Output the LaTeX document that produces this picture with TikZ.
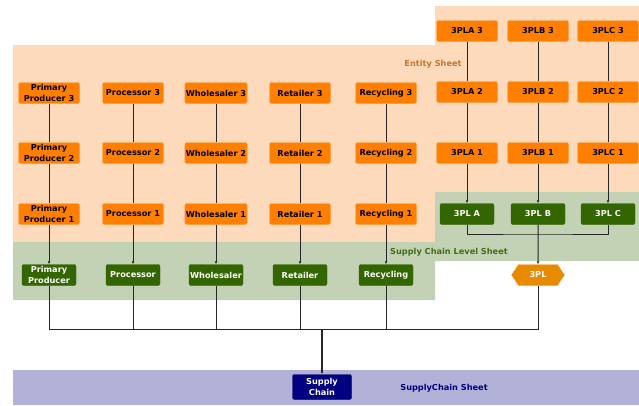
\documentclass[tikz,border=0pt]{standalone}
\usepackage{fontspec}
\setmainfont{DejaVu Sans}
\usetikzlibrary{arrows.meta,shapes.symbols}
\definecolor{entsheet}{RGB}{252,218,187}
\definecolor{lvlsheet}{RGB}{195,209,181}
\definecolor{scsheet}{RGB}{178,178,216}
\definecolor{entorange}{RGB}{255,128,0}
\definecolor{entedge}{RGB}{255,160,70}
\definecolor{lvlgreen}{RGB}{51,102,0}
\definecolor{tplorange}{RGB}{230,138,0}
\definecolor{scnavy}{RGB}{0,0,128}
\definecolor{entlabel}{RGB}{196,118,50}
\definecolor{lvllabel}{RGB}{62,110,22}

\begin{document}
\begin{tikzpicture}[x=1pt,y=-1pt,
  every node/.style={font=\fontsize{8.2}{10.2}\selectfont\bfseries},
  entbox/.style={fill=entorange,draw=entedge,rounded corners=2pt,
    minimum width=61pt,minimum height=21pt,inner sep=1pt,align=center},
  lvlbox/.style={entbox,fill=lvlgreen,draw=lvlgreen,text=white,minimum width=54pt},
  tplhex/.style={shape=signal,signal to=east and west,signal pointer angle=112,
    fill=tplorange,draw=entedge,text=white,minimum width=53pt,minimum height=21pt,inner sep=1pt},
  scbox/.style={entbox,fill=scnavy,draw=scnavy!70!black,text=white,
    minimum width=59pt,minimum height=25pt},
  link/.style={draw=black!85,line width=0.6pt},
  feed/.style={link,-{Latex[length=3pt,width=2.6pt]}},
]
  \useasboundingbox (0,0) rectangle (639,405);

  % sheets
  \fill[entsheet] (13,45) -- (435,45) -- (435,6) -- (639,6) -- (639,192)
    -- (435,192) -- (435,242) -- (13,242) -- cycle;
  \fill[lvlsheet] (13,242) -- (435,242) -- (435,192) -- (639,192) -- (639,261)
    -- (435,261) -- (435,300) -- (13,300) -- cycle;
  \fill[scsheet] (13,370) rectangle (639,405);

  \node[text=entlabel] (entlbl) at (433,64) {Entity Sheet};
  \node[text=lvllabel] (lvllbl) at (449,252) {Supply Chain Level Sheet};
  \node[text=scnavy] (sclbl) at (444,388) {SupplyChain Sheet};

  % entity sheet
  \node[entbox] (pp3)  at ( 49, 93) {Primary\\Producer 3};
  \node[entbox] (pp2)  at ( 49,153) {Primary\\Producer 2};
  \node[entbox] (pp1)  at ( 49,214) {Primary\\Producer 1};
  \node[entbox] (pro3) at (133, 93) {Processor 3};
  \node[entbox] (pro2) at (133,153) {Processor 2};
  \node[entbox] (pro1) at (133,214) {Processor 1};
  \node[entbox] (who3) at (216, 93) {Wholesaler 3};
  \node[entbox] (who2) at (216,153) {Wholesaler 2};
  \node[entbox] (who1) at (216,214) {Wholesaler 1};
  \node[entbox] (ret3) at (300, 93) {Retailer 3};
  \node[entbox] (ret2) at (300,153) {Retailer 2};
  \node[entbox] (ret1) at (300,214) {Retailer 1};
  \node[entbox] (rec3) at (386, 93) {Recycling 3};
  \node[entbox] (rec2) at (386,153) {Recycling 2};
  \node[entbox] (rec1) at (386,214) {Recycling 1};
  \node[entbox] (pla3) at (467, 31) {3PLA 3};
  \node[entbox] (pla2) at (467, 92) {3PLA 2};
  \node[entbox] (pla1) at (467,153) {3PLA 1};
  \node[entbox] (plb3) at (538, 31) {3PLB 3};
  \node[entbox] (plb2) at (538, 92) {3PLB 2};
  \node[entbox] (plb1) at (538,153) {3PLB 1};
  \node[entbox] (plc3) at (608, 31) {3PLC 3};
  \node[entbox] (plc2) at (608, 92) {3PLC 2};
  \node[entbox] (plc1) at (608,153) {3PLC 1};

  % supply chain level sheet
  \node[lvlbox] (ppL)  at ( 49,275) {Primary\\Producer};
  \node[lvlbox] (proL) at (133,275) {Processor};
  \node[lvlbox] (whoL) at (216,275) {Wholesaler};
  \node[lvlbox] (retL) at (300,275) {Retailer};
  \node[lvlbox] (recL) at (386,275) {Recycling};
  \node[lvlbox] (plaL) at (467,214) {3PL A};
  \node[lvlbox] (plbL) at (538,214) {3PL B};
  \node[lvlbox] (plcL) at (608,214) {3PL C};
  \node[tplhex] (tpl)  at (538,275) {3PL};

  % supplychain sheet
  \node[scbox] (sc) at (322,387) {Supply\\Chain};

  % connectors
  \coordinate (tplj) at (538,234);
  \coordinate (join) at (322,329);
  \foreach \c in {pp,pro,who,ret,rec,pla,plb,plc} {
    \draw[link] (\c3) -- (\c2) -- (\c1);
    \draw[feed] (\c1) -- (\c L);
  }
  \draw[link] (plaL) |- (tplj) -| (plcL);
  \draw[feed,line width=1pt] (plbL) -- (tpl);
  \foreach \c in {pp,pro,who,ret,rec}
    \draw[link] (\c L) |- (join);
  \draw[link] (tpl) |- (join);
  \draw[feed,line width=1.3pt] (join) -- (sc);
\end{tikzpicture}
\end{document}
